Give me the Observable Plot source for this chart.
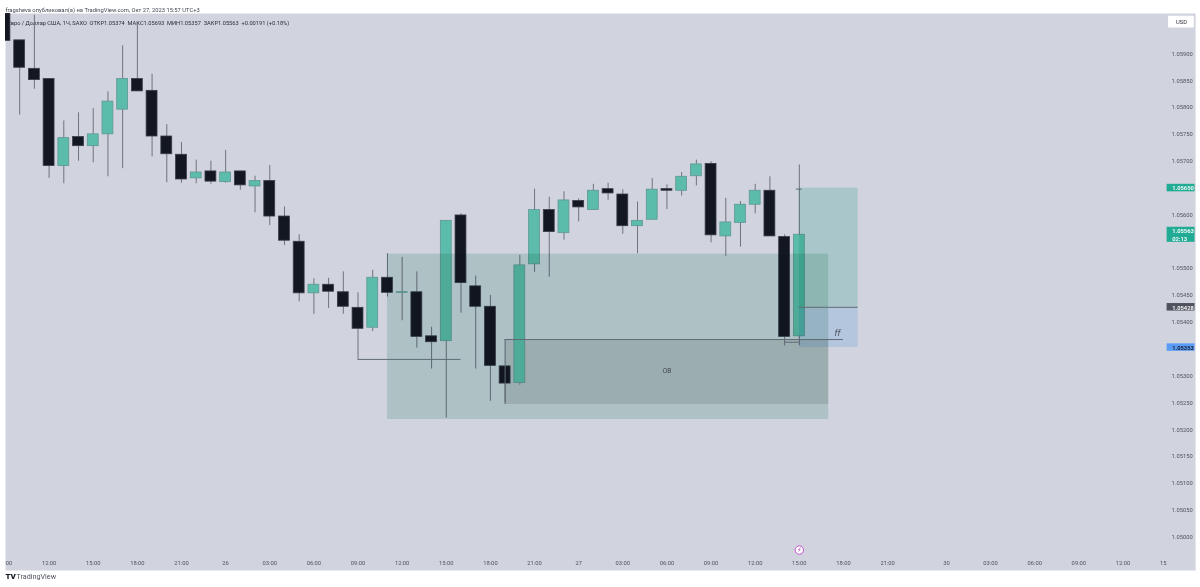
<!DOCTYPE html>
<html><head><meta charset="utf-8">
<script src="https://cdn.jsdelivr.net/npm/d3@7"></script>
<script src="https://cdn.jsdelivr.net/npm/@observablehq/plot@0.6"></script>
<style>html,body{margin:0;padding:0;background:#fff}svg{display:block}</style>
</head><body>
<div id="chart"></div>
<script>
const hours = d3.range(-3, 52);
const opens = [1.05975,1.05925,1.05872,1.05853,1.05691,1.05745,1.05728,1.05750,1.05796,1.05853,1.05831,1.05746,1.05712,1.05668,1.05681,1.05661,1.05681,1.05653,1.05663,1.05597,1.05550,1.05454,1.05470,1.05456,1.05427,1.05390,1.05483,1.05455,1.05456,1.05374,1.05365,1.05599,1.05467,1.05429,1.05318,1.05287,1.05508,1.05609,1.05566,1.05626,1.05609,1.05648,1.05638,1.05579,1.05591,1.05648,1.05645,1.05672,1.05695,1.05560,1.05585,1.05619,1.05645,1.05559,1.05374];
const closes = [1.05924,1.05874,1.05851,1.05691,1.05743,1.05728,1.05750,1.05811,1.05853,1.05830,1.05746,1.05713,1.05666,1.05679,1.05662,1.05679,1.05655,1.05663,1.05597,1.05552,1.05454,1.05470,1.05457,1.05429,1.05388,1.05483,1.05455,1.05456,1.05373,1.05363,1.05589,1.05473,1.05429,1.05319,1.05286,1.05506,1.05609,1.05568,1.05627,1.05614,1.05645,1.05640,1.05579,1.05589,1.05647,1.05645,1.05671,1.05694,1.05562,1.05586,1.05619,1.05645,1.05560,1.05373,1.05563];
const highs = [1.06000,1.05925,1.05972,1.05853,1.05775,1.05790,1.05798,1.05829,1.05915,1.05957,1.05862,1.05768,1.05735,1.05702,1.05700,1.05720,1.05681,1.05672,1.05692,1.05615,1.05563,1.05481,1.05482,1.05494,1.05455,1.05497,1.05528,1.05521,1.05494,1.05391,1.05589,1.05602,1.05486,1.05450,1.05318,1.05525,1.05648,1.05633,1.05643,1.05630,1.05657,1.05659,1.05647,1.05624,1.05668,1.05656,1.05679,1.05702,1.05699,1.05631,1.05625,1.05657,1.05671,1.05563,1.05693];
const lows = [1.05924,1.05786,1.05834,1.05668,1.05658,1.05700,1.05697,1.05671,1.05686,1.05830,1.05708,1.05660,1.05659,1.05658,1.05657,1.05659,1.05646,1.05604,1.05580,1.05543,1.05438,1.05415,1.05426,1.05415,1.05331,1.05383,1.05447,1.05403,1.05352,1.05313,1.05222,1.05417,1.05313,1.05253,1.05251,1.05283,1.05493,1.05484,1.05553,1.05587,1.05609,1.05627,1.05564,1.05528,1.05591,1.05610,1.05635,1.05654,1.05548,1.05523,1.05540,1.05602,1.05560,1.05356,1.05357];

const priceTicks = [1.059,1.0585,1.058,1.0575,1.057,1.056,1.055,1.0545,1.054,1.053,1.0525,1.052,1.0515,1.051,1.0505,1.05];
const timeTicks = [-3,0,3,6,9,12,15,18,21,24,27,30,33,36,39,42,45,48,51,54,57,61,64,67,70,73,76];
const timeLabels = ["09:00","12:00","15:00","18:00","21:00","26","03:00","06:00","09:00","12:00","15:00","18:00","21:00","27","03:00","06:00","09:00","12:00","15:00","18:00","21:00","30","03:00","06:00","09:00","12:00","15:00"];

const obZone = {x1:23,x2:53,top:1.05527,bottom:1.05219};
const innerZone = {x1:31,x2:53,top:1.05367,bottom:1.05247};
const profitZone = {x1:51,x2:55,top:1.05650,bottom:1.05428};
const stopZone = {x1:51,x2:55,top:1.05428,bottom:1.05353};

const segments = [
  {x1:21,x2:28,y:1.05331},
  {x1:31,x2:54,y:1.05368},
  {x1:51,x2:55,y:1.05428},
  {x1:50,x2:51,y:1.05363},
  {x1:50.8,x2:51.2,y:1.05648}
];
const innerEdge = [{x:31,y1:1.05368,y2:1.05247}];

const badges = [
  {lines:"1.05650",price:1.05650,half:0.00007,color:"#22ab94",text:"#fff"},
  {lines:"1.05563\n02:13",price:1.05563,half:0.00014,color:"#22ab94",text:"#fff"},
  {lines:"1.05428",price:1.05428,half:0.00007,color:"#50535e",text:"#fff"},
  {lines:"1.05353",price:1.05353,half:0.00007,color:"#5b9cf6",text:"#131722"}
];
const badgeX = [76, 77.9];
const usdBadge = {x1:76.1,x2:77.85,top:1.05970,bottom:1.05948};

const headerText = "fragsheva опубликовал(а) на TradingView.com, Окт 27, 2023 15:57 UTC+3";
const legendText = "Евро / Доллар США, 1Ч, SAXO  ОТКР1.05374  МАКС1.05693  МИН1.05357  ЗАКР1.05563  +0.00191 (+0.18%)";

const candles = hours.map((h,i)=>({h,o:opens[i],c:closes[i],hi:highs[i],lo:lows[i],up:closes[i]>=opens[i]}));
const FONT = "Roboto, 'Noto Sans', sans-serif";
const INK = "#50535e";
const axisY = 1.04951;
const eventY = 1.04976;

const zone = (z,fill)=>Plot.rect([z],{x1:"x1",x2:"x2",y1:"bottom",y2:"top",fill,mixBlendMode:"multiply"});

const chart = Plot.plot({
  width:1200,height:587,
  marginLeft:5,marginRight:33.4,marginTop:13,marginBottom:17,
  style:{background:"#fff",fontFamily:FONT},
  x:{type:"linear",domain:[-2.964,76],axis:null},
  y:{type:"linear",domain:[1.04938,1.05975],axis:null},
  marks:[
    Plot.frame({fill:"#d1d4de",stroke:"none",insetRight:-28.5}),
    Plot.text([legendText],{frameAnchor:"top-left",dx:2,dy:7,text:d=>d,fontSize:5.7,fill:"#2a2e39",textAnchor:"start"}),
    zone(innerZone,"#e6e5e5"),
    Plot.ruleX(candles,{x:"h",y1:"lo",y2:"hi",stroke:"#70737f",strokeWidth:1,clip:true}),
    Plot.rect(candles,{x1:d=>d.h-0.37,x2:d=>d.h+0.37,y1:"o",y2:"c",fill:d=>d.up?"#5cbcab":"#131722",stroke:d=>d.up?"#5f9694":"#3a3d48",strokeWidth:0.8,clip:true}),
    zone(obZone,"#d4e8e2"),
    zone(profitZone,"#cff0e8"),
    zone(stopZone,"#dcedff"),
    Plot.ruleY(segments,{x1:"x1",x2:"x2",y:"y",stroke:"#5f6b74",strokeWidth:1}),
    Plot.ruleX(innerEdge,{x:"x",y1:"y1",y2:"y2",stroke:"#5f6b74",strokeWidth:1}),
    Plot.text(["OB"],{x:()=>42,y:()=>1.05309,text:d=>d,fontSize:6.5,fill:"#3f4650"}),
    Plot.text(["ff"],{x:()=>53.6,y:()=>1.0538,text:d=>d,fontSize:9,fontStyle:"italic",fill:INK}),
    Plot.axisY(priceTicks,{anchor:"right",tickSize:0,tickPadding:4.5,tickFormat:d3.format(".5f"),fontSize:5.8,fill:INK,label:null}),
    Plot.rect(badges,{x1:()=>badgeX[0],x2:()=>badgeX[1],y1:d=>d.price-d.half,y2:d=>d.price+d.half,fill:"color"}),
    Plot.text(badges,{x:()=>76.35,y:"price",text:"lines",fill:"text",fontSize:5.8,fontWeight:600,textAnchor:"start",lineHeight:1.25}),
    Plot.rect([usdBadge],{x1:"x1",x2:"x2",y1:"bottom",y2:"top",fill:"#fff",rx:1}),
    Plot.text(["USD"],{x:()=>76.98,y:()=>1.05959,text:d=>d,fontSize:5.8,fill:"#2a2e39"}),
    Plot.text(timeTicks,{x:d=>d,y:()=>axisY,text:(d,i)=>timeLabels[i],fontSize:5.8,fill:INK,clip:true}),
    Plot.dot([51],{x:d=>d,y:()=>eventY,r:4.2,fill:"#fff",stroke:"#c74fd6",strokeWidth:1}),
    Plot.text(["⚡"],{x:()=>51,y:()=>eventY,text:d=>d,fontSize:6,fill:"#9c27b0",fontFamily:"DejaVu Sans"}),
    Plot.text([headerText],{frameAnchor:"top-left",dy:-6,text:d=>d,fontSize:5.8,fill:"#434651",textAnchor:"start"}),
    Plot.text(["TV"],{frameAnchor:"bottom-left",dy:8,text:d=>d,fontSize:8,fontWeight:900,fill:"#131722",textAnchor:"start"}),
    Plot.text(["TradingView"],{frameAnchor:"bottom-left",dy:8,dx:11,text:d=>d,fontSize:7.2,fill:"#50535e",textAnchor:"start"})
  ]
});
document.getElementById("chart").appendChild(chart);
</script>
</body></html>
